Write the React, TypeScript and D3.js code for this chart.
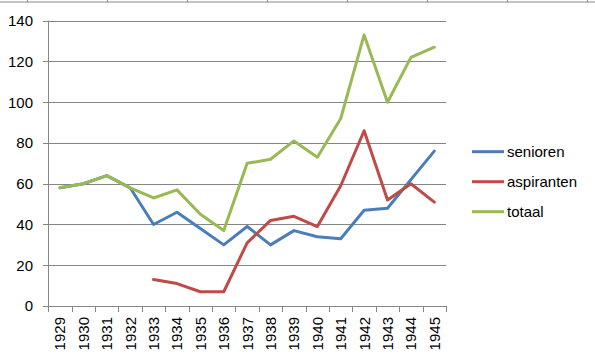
import React, { useEffect, useRef } from "react";
import * as d3 from "d3";

const years = ["1929", "1930", "1931", "1932", "1933", "1934", "1935", "1936", "1937", "1938", "1939", "1940", "1941", "1942", "1943", "1944", "1945"];
const senioren = [58, 60, 64, 58, 40, 46, 38, 30, 39, 30, 37, 34, 33, 47, 48, 62, 76];
const aspiranten = [null, null, null, null, 13, 11, 7, 7, 31, 42, 44, 39, 59, 86, 52, 60, 51];
const totaal = [58, 60, 64, 58, 53, 57, 45, 37, 70, 72, 81, 73, 92, 133, 100, 122, 127];
const yTicks = [0, 20, 40, 60, 80, 100, 120, 140];
const topTicks = [27, 107, 187, 267, 347, 427, 507, 587];

const series = [
  { name: "senioren", values: senioren, color: "#4A7EBB" },
  { name: "aspiranten", values: aspiranten, color: "#BE4B48" },
  { name: "totaal", values: totaal, color: "#98B954" },
];

export default function App() {
  const ref = useRef<SVGSVGElement>(null);

  useEffect(() => {
    const svg = d3.select(ref.current);
    svg.selectAll("*").remove();
    const font = "'Liberation Sans', Arial, sans-serif";

    // cut-off chart above
    svg.append("line").attr("x1", 0).attr("x2", 595).attr("y1", 2).attr("y2", 2)
      .attr("stroke", "#868686").attr("stroke-width", 1);
    svg.selectAll(".tt").data(topTicks).enter().append("line")
      .attr("x1", d => d + 0.5).attr("x2", d => d + 0.5).attr("y1", 0).attr("y2", 2)
      .attr("stroke", "#868686");

    const x = d3.scaleBand().domain(years).range([48.3, 446]);
    const y = d3.scaleLinear().domain([0, 140]).range([306, 20.7]);

    const g = svg.append("g");
    // gridlines
    g.selectAll(".grid").data(yTicks.slice(1)).enter().append("line")
      .attr("x1", 43).attr("x2", 446)
      .attr("y1", d => Math.round(y(d)) + 0.5).attr("y2", d => Math.round(y(d)) + 0.5)
      .attr("stroke", "#868686");
    // y axis
    g.append("line").attr("x1", 48.5).attr("x2", 48.5).attr("y1", y(140)).attr("y2", 306)
      .attr("stroke", "#868686");
    g.append("line").attr("x1", 43).attr("x2", 446).attr("y1", 306.5).attr("y2", 306.5)
      .attr("stroke", "#868686");
    g.selectAll(".yl").data(yTicks).enter().append("text")
      .attr("x", 33).attr("y", d => y(d)).attr("dy", "0.36em")
      .attr("text-anchor", "end").attr("font-family", font).attr("font-size", 15)
      .attr("fill", "#000").text(d => d);

    // x ticks
    const edges = years.map(d => x(d)!).concat([446]);
    g.selectAll(".xt").data(edges).enter().append("line")
      .attr("x1", d => Math.round(d) + 0.5).attr("x2", d => Math.round(d) + 0.5)
      .attr("y1", 306).attr("y2", 312).attr("stroke", "#868686");
    g.selectAll(".xl").data(years).enter().append("text")
      .attr("transform", d => `translate(${x(d)! + x.bandwidth() / 2},317) rotate(-90)`)
      .attr("dy", "0.36em").attr("text-anchor", "end")
      .attr("font-family", font).attr("font-size", 15).attr("fill", "#000").text(d => d);

    // lines
    series.forEach(s => {
      const line = d3.line<number | null>()
        .defined(v => v != null)
        .x((_, i) => x(years[i])! + x.bandwidth() / 2)
        .y(v => y(v as number));
      g.append("path").attr("d", line(s.values)).attr("fill", "none")
        .attr("stroke", s.color).attr("stroke-width", 3)
        .attr("stroke-linejoin", "round").attr("stroke-linecap", "round");
    });

    // legend
    const lg = svg.append("g");
    series.forEach((s, i) => {
      const ly = 151.7 + i * 30;
      lg.append("line").attr("x1", 472).attr("x2", 504).attr("y1", ly).attr("y2", ly)
        .attr("stroke", s.color).attr("stroke-width", 3);
      lg.append("text").attr("x", 507).attr("y", ly).attr("dy", "0.36em")
        .attr("font-family", font).attr("font-size", 15).attr("fill", "#000").text(s.name);
    });
  }, []);

  return (
    <svg ref={ref} width={595} height={358}
      style={{ position: "absolute", left: 0, top: 0, background: "#fff" }} />
  );
}
